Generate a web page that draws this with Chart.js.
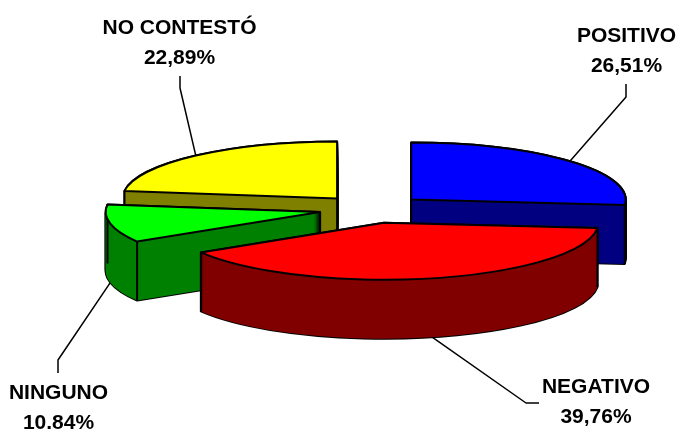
<!DOCTYPE html>
<html>
<head>
<meta charset="utf-8">
<style>html,body{margin:0;padding:0;background:#fff}canvas{display:block}</style>
<script src="https://cdn.jsdelivr.net/npm/chart.js@4"></script>
</head>
<body>
<canvas id="c" width="678" height="430"></canvas>
<script>
// ---- data ----
const categories = ["POSITIVO", "NEGATIVO", "NINGUNO", "NO CONTESTÓ"];
const values = [26.51, 39.76, 10.84, 22.89];
const valueLabels = ["26,51%", "39,76%", "10.84%", "22,89%"];
const faceColors = ["#0000FF", "#FF0000", "#00FF00", "#FFFF00"];
const wallColors = ["#000080", "#800000", "#008000", "#808000"];

// ---- presentation ----
const RADIUS = 214.5, EXPLODE = 53, SQUASH = 0.2655, DEPTH = 59;
const CENTER = {x: 372, y: 209};
const DRAW_ORDER = [3, 0, 2, 1];                     // back to front
const LABEL_FONT = 'bold 21px "Liberation Sans", Arial, sans-serif';
const callouts = [
  {elbow: [626, 97],  end: [626, 84],  text: [626.5, 42], front: false},
  {elbow: [526, 403], end: [539, 403], text: [596, 393],  front: true},
  {elbow: [58, 360],  end: [58, 373],  text: [58.5, 399], front: true},
  {elbow: [180, 88],  end: [180, 76],  text: [179.5, 34], front: false}
];
const LINE_GAP = 30;

function geometry(arc) {
  const mid = (arc.startAngle + arc.endAngle) / 2;
  return {
    mid,
    start: arc.startAngle,
    end: arc.endAngle,
    r: arc.outerRadius,
    cx: CENTER.x + Math.cos(mid) * EXPLODE,
    cy: CENTER.y + Math.sin(mid) * EXPLODE * SQUASH
  };
}
function onRim(g, angle, depth) {
  return [g.cx + Math.cos(angle) * g.r, g.cy + Math.sin(angle) * g.r * SQUASH + depth];
}
function slicePath(ctx, g, depth) {
  ctx.beginPath();
  ctx.moveTo(g.cx, g.cy + depth);
  ctx.ellipse(g.cx, g.cy + depth, g.r, g.r * SQUASH, 0, g.start, g.end);
  ctx.closePath();
}
function drawFill(ctx, arc, g, color, depth) {
  const saved = arc.options;
  arc.options = Object.assign({}, saved, {backgroundColor: color, borderWidth: 0, offset: 0});
  ctx.save();
  ctx.translate(g.cx, g.cy + depth);
  ctx.scale(1, SQUASH);
  ctx.translate(-arc.x, -arc.y);
  arc.draw(ctx);
  ctx.restore();
  arc.options = saved;
}
const pie3d = {
  id: 'pie3d',
  beforeDatasetsDraw(chart) {
    const ctx = chart.ctx;
    const arcs = chart.getDatasetMeta(0).data;
    ctx.lineJoin = 'round';
    DRAW_ORDER.forEach(i => {
      const arc = arcs[i], g = geometry(arc);
      ctx.strokeStyle = '#000';
      ctx.lineWidth = 2;
      for (let d = DEPTH; d >= 0; d--) { slicePath(ctx, g, d); ctx.stroke(); }
      for (let d = DEPTH; d >= 0; d--) drawFill(ctx, arc, g, wallColors[i], d);
      // vertical wall edges
      const down = Math.PI / 2;
      const containsDown = g.start <= down && g.end >= down;
      const verts = [onRim(g, g.start, 0), onRim(g, g.end, 0)];
      if (!containsDown) verts.push([g.cx, g.cy]);
      ctx.beginPath();
      verts.forEach(v => { ctx.moveTo(v[0], v[1]); ctx.lineTo(v[0], v[1] + DEPTH); });
      ctx.stroke();
      // top face
      drawFill(ctx, arc, g, faceColors[i], 0);
      slicePath(ctx, g, 0);
      ctx.stroke();
    });
    // callouts
    ctx.lineWidth = 1.5;
    ctx.strokeStyle = '#000';
    ctx.fillStyle = '#000';
    ctx.font = LABEL_FONT;
    ctx.textAlign = 'center';
    ctx.textBaseline = 'alphabetic';
    arcs.forEach((arc, i) => {
      const g = geometry(arc), c = callouts[i];
      const p = onRim(g, g.mid, c.front ? DEPTH : 0);
      ctx.beginPath();
      ctx.moveTo(p[0], p[1]);
      ctx.lineTo(c.elbow[0], c.elbow[1]);
      ctx.lineTo(c.end[0], c.end[1]);
      ctx.stroke();
      ctx.fillText(categories[i], c.text[0], c.text[1]);
      ctx.fillText(valueLabels[i], c.text[0], c.text[1] + LINE_GAP);
    });
    return false;
  }
};

new Chart(document.getElementById('c'), {
  type: 'pie',
  data: {
    labels: categories,
    datasets: [{
      data: values,
      backgroundColor: faceColors,
      borderWidth: 0
    }]
  },
  options: {
    responsive: false,
    animation: false,
    events: [],
    radius: RADIUS,
    layout: {padding: 0},
    plugins: {legend: {display: false}, tooltip: {enabled: false}, title: {display: false}}
  },
  plugins: [pie3d]
});
</script>
</body>
</html>
